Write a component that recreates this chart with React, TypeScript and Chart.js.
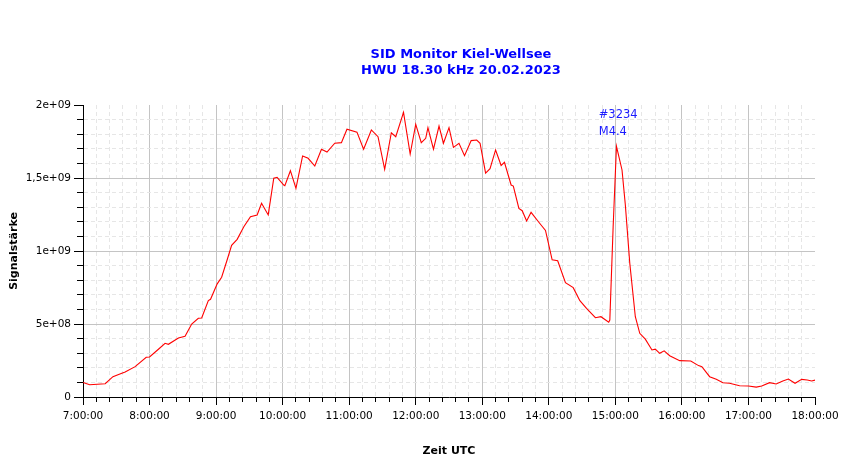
import { useEffect, useRef } from 'react';
import { Chart, registerables, Plugin } from 'chart.js';

Chart.register(...registerables);

// readings, UTC
const times = [
  '7:00', '7:06', '7:20', '7:27', '7:35', '7:38', '7:47', '7:57', '8:00', '8:08',
  '8:14', '8:17', '8:26', '8:32', '8:38', '8:44', '8:47', '8:53', '8:55', '9:01',
  '9:05', '9:10', '9:14', '9:19', '9:25', '9:31', '9:37', '9:41', '9:47', '9:52',
  '9:55', '10:01', '10:02', '10:07', '10:12', '10:18', '10:23', '10:29', '10:35', '10:40',
  '10:47', '10:53', '10:58', '11:07', '11:13', '11:20', '11:26', '11:32', '11:38', '11:42',
  '11:49', '11:55', '12:00', '12:05', '12:09', '12:11', '12:16', '12:21', '12:25', '12:30',
  '12:34', '12:39', '12:44', '12:50', '12:55', '12:58', '13:03', '13:07', '13:12', '13:17',
  '13:20', '13:26', '13:28', '13:33', '13:36', '13:40', '13:44', '13:51', '13:57', '14:03',
  '14:08', '14:15', '14:22', '14:28', '14:34', '14:42', '14:47', '14:54', '14:55', '14:58',
  '15:01', '15:06', '15:09', '15:13', '15:18', '15:22', '15:27', '15:33', '15:36', '15:40',
  '15:44', '15:49', '15:58', '16:08', '16:15', '16:18', '16:25', '16:31', '16:37', '16:43',
  '16:52', '17:00', '17:07', '17:12', '17:19', '17:25', '17:31', '17:36', '17:42', '17:48',
  '17:53', '17:57', '18:00',
];

const signal = [
  0.100e9, 0.084e9, 0.091e9, 0.139e9, 0.162e9, 0.171e9, 0.208e9, 0.272e9, 0.274e9, 0.327e9,
  0.368e9, 0.361e9, 0.404e9, 0.416e9, 0.500e9, 0.539e9, 0.541e9, 0.660e9, 0.669e9, 0.775e9,
  0.820e9, 0.940e9, 1.039e9, 1.080e9, 1.166e9, 1.235e9, 1.247e9, 1.327e9, 1.247e9, 1.498e9,
  1.505e9, 1.452e9, 1.447e9, 1.550e9, 1.429e9, 1.651e9, 1.635e9, 1.582e9, 1.697e9, 1.678e9,
  1.738e9, 1.742e9, 1.834e9, 1.814e9, 1.697e9, 1.829e9, 1.783e9, 1.560e9, 1.810e9, 1.783e9,
  1.950e9, 1.664e9, 1.868e9, 1.742e9, 1.772e9, 1.845e9, 1.697e9, 1.856e9, 1.738e9, 1.845e9,
  1.710e9, 1.738e9, 1.653e9, 1.756e9, 1.760e9, 1.738e9, 1.534e9, 1.564e9, 1.692e9, 1.586e9,
  1.607e9, 1.452e9, 1.445e9, 1.292e9, 1.276e9, 1.206e9, 1.265e9, 1.197e9, 1.141e9, 0.940e9,
  0.933e9, 0.783e9, 0.749e9, 0.660e9, 0.607e9, 0.543e9, 0.550e9, 0.512e9, 0.527e9, 1.166e9,
  1.717e9, 1.555e9, 1.315e9, 0.916e9, 0.550e9, 0.436e9, 0.396e9, 0.322e9, 0.328e9, 0.299e9,
  0.316e9, 0.283e9, 0.249e9, 0.247e9, 0.215e9, 0.208e9, 0.139e9, 0.121e9, 0.098e9, 0.094e9,
  0.077e9, 0.075e9, 0.068e9, 0.075e9, 0.098e9, 0.089e9, 0.110e9, 0.123e9, 0.094e9, 0.121e9,
  0.116e9, 0.110e9, 0.116e9,
];

const titleLines = ['SID Monitor Kiel-Wellsee', 'HWU 18.30 kHz 20.02.2023'];
const flareLines = ['#3234', 'M4.4'];
const flareTime = '14:45';
const flareLevel = 1.93e9;

const FONT = '"DejaVu Sans", sans-serif';

const toHours = (t: string) => {
  const [h, m] = t.split(':').map(Number);
  return h + m / 60;
};
const isHour = (v: number) => Math.abs(v - Math.round(v)) < 1e-6;
const isMajorY = (v: number) => Math.abs(v / 5e8 - Math.round(v / 5e8)) < 1e-6;

function expLabel(v: number) {
  if (Math.abs(v) < 1) return '0';
  const [m, e] = v.toExponential().split('e');
  return `${m.replace('.', ',')}e${e[0]}${e.slice(1).padStart(2, '0')}`;
}

// two-line title and flare note
const textPlugin: Plugin = {
  id: 'sidText',
  afterDraw(chart) {
    const { ctx, chartArea, scales } = chart;
    ctx.save();
    ctx.fillStyle = '#0000ff';
    ctx.textAlign = 'center';
    ctx.textBaseline = 'middle';
    ctx.font = `bold 13px ${FONT}`;
    const cx = (chartArea.left + chartArea.right) / 2 + 12;
    titleLines.forEach((line, i) => ctx.fillText(line, cx, 55 + i * 16));

    ctx.fillStyle = '#1a1aff';
    ctx.font = `11.5px ${FONT}`;
    ctx.textAlign = 'left';
    const x = scales.x.getPixelForValue(toHours(flareTime));
    const y = scales.y.getPixelForValue(flareLevel);
    flareLines.forEach((line, i) => ctx.fillText(line, x, y + i * 17));
    ctx.restore();
  },
};

function SidChart() {
  const chartRef = useRef<HTMLCanvasElement>(null);
  const chartInstance = useRef<Chart>();

  useEffect(() => {
    if (!chartRef.current) return;
    const ctx = chartRef.current.getContext('2d');
    if (!ctx) return;

    chartInstance.current?.destroy();
    Chart.defaults.color = '#000';
    Chart.defaults.font.family = FONT;

    chartInstance.current = new Chart(ctx, {
      type: 'line',
      data: {
        datasets: [
          {
            label: 'Signalstärke',
            data: times.map((t, i) => ({ x: toHours(t), y: signal[i] })),
            borderColor: '#ff0000',
            borderWidth: 1.1,
            pointRadius: 0,
            tension: 0,
          },
        ],
      },
      options: {
        animation: false,
        responsive: false,
        maintainAspectRatio: false,
        layout: { padding: { top: 105, right: 35, left: 0, bottom: 0 } },
        plugins: {
          legend: { display: false },
          title: { display: false },
          tooltip: { enabled: false },
        },
        scales: {
          x: {
            type: 'linear',
            min: 7,
            max: 18,
            afterFit: (s: any) => {
              s.height = 62;
            },
            ticks: {
              stepSize: 0.2,
              autoSkip: false,
              maxRotation: 0,
              padding: 5,
              font: { size: 10.5 },
              callback: (v: any) => (isHour(Number(v)) ? `${Math.round(Number(v))}:00:00` : ''),
            },
            grid: {
              color: (c: any) => {
                const v = c.tick?.value;
                if (v === undefined || v >= 18 - 1e-6) return 'rgba(0,0,0,0)';
                return isHour(v) ? '#c4c4c4' : '#e6e6e6';
              },
              lineWidth: 1,
              tickLength: 8,
              tickColor: '#000',
              tickBorderDash: (c: any) => (c.tick && !isHour(c.tick.value) ? [4, 100] : []),
            },
            border: {
              color: '#000',
              width: 1,
              dash: (c: any) => (c.tick && !isHour(c.tick.value) ? [4, 3] : []),
            },
            title: {
              display: true,
              text: 'Zeit UTC',
              font: { size: 11, weight: 'bold' },
              padding: { top: 0, bottom: 1 },
            },
          },
          y: {
            min: 0,
            max: 2e9,
            afterFit: (s: any) => {
              s.width = 83;
            },
            ticks: {
              stepSize: 1e8,
              autoSkip: false,
              padding: 3,
              font: { size: 10.5 },
              callback: (v: any) => (isMajorY(Number(v)) ? expLabel(Number(v)) : ''),
            },
            grid: {
              color: (c: any) => {
                const v = c.tick?.value;
                if (v === undefined || v >= 2e9 - 1) return 'rgba(0,0,0,0)';
                return isMajorY(v) ? '#c4c4c4' : '#e6e6e6';
              },
              lineWidth: 1,
              tickLength: 9,
              tickColor: '#000',
              tickBorderDash: (c: any) => (c.tick && !isMajorY(c.tick.value) ? [0, 3, 6, 100] : []),
            },
            border: {
              color: '#000',
              width: 1,
              dash: (c: any) => (c.tick && !isMajorY(c.tick.value) ? [4, 3] : []),
            },
            title: {
              display: true,
              text: 'Signalstärke',
              font: { size: 11, weight: 'bold' },
              padding: { top: 8, bottom: 0 },
            },
          },
        },
      },
      plugins: [textPlugin],
    });

    return () => {
      chartInstance.current?.destroy();
    };
  }, []);

  return <canvas ref={chartRef} width={850} height={459} />;
}

export default function App() {
  useEffect(() => {
    document.body.style.margin = '0';
  }, []);

  return (
    <div style={{ width: 850, height: 459, background: '#fff' }}>
      <SidChart />
    </div>
  );
}
